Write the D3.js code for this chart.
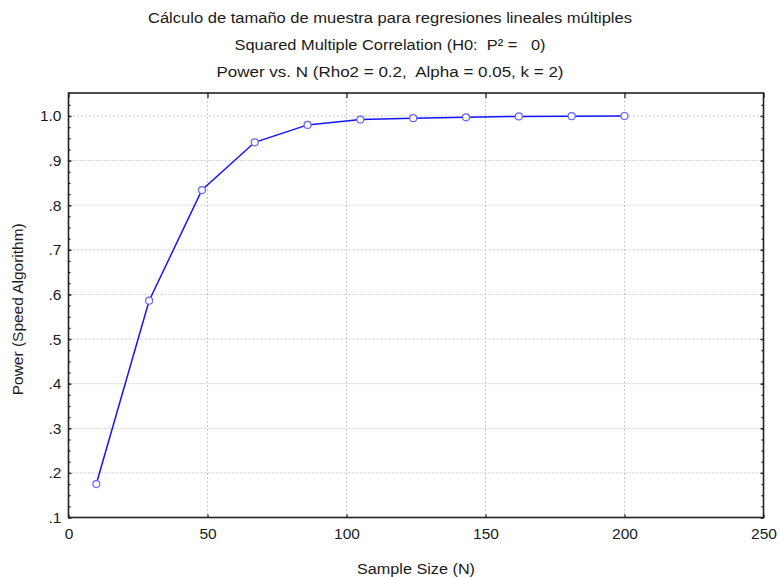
<!DOCTYPE html>
<html>
<head>
<meta charset="utf-8">
<script src="https://cdn.jsdelivr.net/npm/d3@7"></script>
<style>
  body { margin: 0; background: #fff; }
  text { font-family: "Liberation Sans", Arial, sans-serif; fill: #1a1a1a; white-space: pre; }
</style>
</head>
<body>
<svg id="chart" width="780" height="577"></svg>
<script>
const titles = [
  "Cálculo de tamaño de muestra para regresiones lineales múltiples",
  "Squared Multiple Correlation (H0:  P² =   0)",
  "Power vs. N (Rho2 = 0.2,  Alpha = 0.05, k = 2)"
];
const xLabel = "Sample Size (N)";
const yLabel = "Power (Speed Algorithm)";
const sampleSize = [10, 29, 48, 67, 86, 105, 124, 143, 162, 181, 200];
const power = [0.175, 0.586, 0.834, 0.941, 0.980, 0.992, 0.995, 0.997, 0.999, 0.9995, 1.0];
const xTicks = [0, 50, 100, 150, 200, 250];
const yTicks = [0.1, 0.2, 0.3, 0.4, 0.5, 0.6, 0.7, 0.8, 0.9, 1.0];
const yTickLabels = [".1", ".2", ".3", ".4", ".5", ".6", ".7", ".8", ".9", "1.0"];

const svg = d3.select("#chart");
const L = 68.5, R = 763.5, T = 93, B = 517.5;

const x = d3.scaleLinear().domain([0, 250]).range([L, R]);
const y = d3.scaleLinear().domain([0.1, 1.0515]).range([B, T]);

// titles
const titleW = [484, 311, 347];
titles.forEach((t, i) => {
  svg.append("text")
    .attr("x", 390).attr("y", 23 + i * 27)
    .attr("text-anchor", "middle")
    .attr("font-size", 15.5)
    .attr("textLength", titleW[i])
    .attr("lengthAdjust", "spacingAndGlyphs")
    .text(t);
});

// grid
const grid = svg.append("g").attr("stroke", "#c8c8c8").attr("stroke-width", 1).attr("stroke-dasharray", "2,2");
xTicks.filter(v => v > 0 && v < 250).forEach(v => {
  grid.append("line").attr("x1", x(v)).attr("x2", x(v)).attr("y1", T).attr("y2", B);
});
yTicks.filter(v => v > 0.1).forEach(v => {
  grid.append("line").attr("x1", L).attr("x2", R).attr("y1", y(v)).attr("y2", y(v));
});

// axes
const yAxisL = d3.axisLeft(y).tickValues(yTicks).tickFormat((d, i) => yTickLabels[i]).tickSize(-3).tickPadding(7);
svg.append("g").attr("class", "lab").attr("transform", `translate(${L},0)`).call(yAxisL);
const minorY = d3.range(0.1, 1.05, 0.025);
svg.append("g").attr("transform", `translate(${L},0)`).call(d3.axisLeft(y).tickValues(minorY).tickFormat("").tickSize(-2));
svg.append("g").attr("transform", `translate(${R},0)`).call(d3.axisRight(y).tickValues(yTicks).tickFormat("").tickSize(-3));
svg.append("g").attr("transform", `translate(${R},0)`).call(d3.axisRight(y).tickValues(minorY).tickFormat("").tickSize(-2));

const xAxisB = d3.axisBottom(x).tickValues(xTicks).tickFormat(d3.format("d")).tickSize(-3).tickPadding(10);
svg.append("g").attr("class", "lab").attr("transform", `translate(0,${B})`).call(xAxisB);
svg.append("g").attr("transform", `translate(0,${T})`).call(d3.axisTop(x).tickValues(xTicks).tickFormat("").tickSize(-5));

svg.selectAll(".domain").remove();
svg.selectAll(".tick line").attr("stroke", "#222").attr("stroke-width", 1.3);
svg.selectAll(".tick text").attr("font-size", 15.5).attr("fill", "#1a1a1a")
  .style("font-family", '"Liberation Sans", Arial, sans-serif');

// frame
svg.append("rect").attr("x", L).attr("y", T).attr("width", R - L).attr("height", B - T)
  .attr("fill", "none").attr("stroke", "#222").attr("stroke-width", 1.6);

// axis titles
svg.append("text").attr("x", (L + R) / 2).attr("y", 574).attr("text-anchor", "middle")
  .attr("font-size", 15.5).attr("textLength", 118).attr("lengthAdjust", "spacingAndGlyphs").text(xLabel);
svg.append("text").attr("transform", `translate(23,${(T + B) / 2 + 4}) rotate(-90)`)
  .attr("text-anchor", "middle").attr("font-size", 15.5).attr("textLength", 172)
  .attr("lengthAdjust", "spacingAndGlyphs").text(yLabel);

// line + markers
const data = sampleSize.map((n, i) => ({ n, p: power[i] }));
svg.append("path").datum(data)
  .attr("fill", "none").attr("stroke", "#1414ff").attr("stroke-width", 1.5)
  .attr("d", d3.line().x(d => x(d.n)).y(d => y(d.p)));
svg.selectAll("circle.pt").data(data).enter().append("circle")
  .attr("class", "pt")
  .attr("cx", d => x(d.n)).attr("cy", d => y(d.p)).attr("r", 3.5)
  .attr("fill", "#fff").attr("stroke", "#6464ff").attr("stroke-width", 1.2);
</script>
</body>
</html>
